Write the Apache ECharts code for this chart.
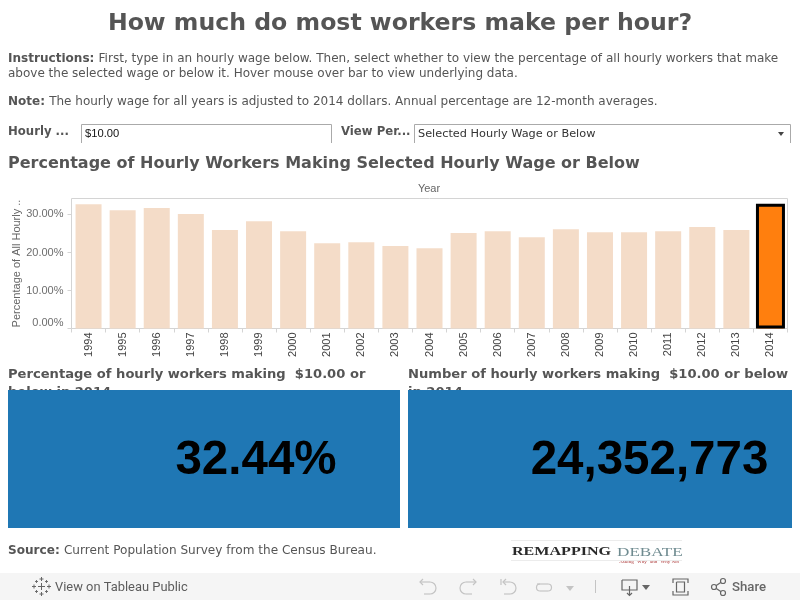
<!DOCTYPE html>
<html>
<head>
<meta charset="utf-8">
<style>html,body{margin:0;padding:0;background:#fff}#c{width:800px;height:600px}</style>
<script src="https://cdn.jsdelivr.net/npm/echarts@6/dist/echarts.min.js"></script>
</head>
<body>
<div id="c"></div>
<script>
const years = ['1994','1995','1996','1997','1998','1999','2000','2001','2002','2003','2004','2005','2006','2007','2008','2009','2010','2011','2012','2013','2014'];
const percentages = [32.7,31.1,31.7,30.1,25.9,28.2,25.6,22.4,22.7,21.7,21.1,25.1,25.6,24.0,26.1,25.3,25.3,25.6,26.7,25.9,32.44];
const yTicks = [0,10,20,30];
const selectedYear = '2014';
const selectedWage = '$10.00';
const kpiPercent = '32.44%';
const kpiCount = '24,352,773';

const UI = 'DejaVu Sans';
const AR = 'Liberation Sans';
const DARK = '#555555';
const g = [];
const text = (x, y, t, o = {}) => g.push({type:'text', x, y, z:o.z||5, scaleX:o.scaleX||1, style:Object.assign({text:t, fill:DARK, font:`${o.weight||'normal'} ${o.size||12}px "${o.family||UI}"`, textAlign:o.align||'left', textVerticalAlign:'middle'}, o.style||{})});
const rect = (x, y, w, h, fill, z = 2) => g.push({type:'rect', z, shape:{x,y,width:w,height:h}, style:{fill}});
const line = (x1, y1, x2, y2, stroke = '#aaaaaa', lw = 1, z = 6) => g.push({type:'line', z, shape:{x1,y1,x2,y2}, style:{stroke, lineWidth:lw}});
const poly = (points, stroke, lw = 1.2, z = 6) => g.push({type:'polyline', z, shape:{points}, style:{stroke, lineWidth:lw, fill:'none'}});
const tri = (points, fill) => g.push({type:'polygon', z:6, shape:{points}, style:{fill}});
const arc = (cx, cy, r, a0, a1, stroke, cw = true) => g.push({type:'arc', z:6, shape:{cx, cy, r, startAngle:a0, endAngle:a1, clockwise:cw}, style:{stroke, lineWidth:1.2, fill:'none'}});
const rich = (x, y, bold, rest, size = 12) => g.push({type:'text', x, y, z:5, style:{
  text:`{b|${bold}}{n|${rest}}`, textVerticalAlign:'middle',
  rich:{b:{font:`bold ${size}px "${UI}"`, fill:DARK}, n:{font:`${size}px "${UI}"`, fill:DARK}}
}});

text(400, 24, 'How much do most workers make per hour?', {size:23.6, weight:'bold', align:'center'});
rich(8, 59, 'Instructions: ', 'First, type in an hourly wage below. Then, select whether to view the percentage of all hourly workers that make', 12.06);
text(8, 74, 'above the selected wage or below it. Hover mouse over bar to view underlying data.');
rich(8, 102, 'Note: ', 'The hourly wage for all years is adjusted to 2014 dollars. Annual percentage are 12-month averages.');

text(8, 132, 'Hourly ...', {weight:'bold', size:11.7});
poly([[81.5,143],[81.5,124.5],[331.5,124.5],[331.5,143]], '#aaaaaa', 1);
text(85, 134, selectedWage, {size:11.2, family:AR, style:{fill:'#111'}});
text(341, 132, 'View Per...', {weight:'bold', size:11.7});
poly([[414.5,143],[414.5,124.5],[790.5,124.5],[790.5,143]], '#aaaaaa', 1);
text(418, 134, 'Selected Hourly Wage or Below', {size:11.3, style:{fill:'#333'}});
tri([[778,132],[784,132],[781,136]], '#444');

text(8, 164, 'Percentage of Hourly Workers Making Selected Hourly Wage or Below', {size:16, weight:'bold'});
text(429, 189, 'Year', {size:11, family:AR, align:'center', style:{fill:'#666'}});

text(8, 375, 'Percentage of hourly workers making  ' + selectedWage + ' or', {size:13.1, weight:'bold', z:1});
text(8, 393, 'below in ' + selectedYear, {size:13.1, weight:'bold', z:1});
text(408, 375, 'Number of hourly workers making  ' + selectedWage + ' or below', {size:13.1, weight:'bold', z:1});
text(408, 393, 'in ' + selectedYear, {size:13.1, weight:'bold', z:1});
rect(8, 390, 392, 138, '#1f77b4');
rect(408, 390, 384, 138, '#1f77b4');
text(256, 461, kpiPercent, {size:47.5, weight:'bold', family:AR, align:'center', style:{fill:'#000'}});
text(649.5, 461, kpiCount, {size:47.5, weight:'bold', family:AR, align:'center', style:{fill:'#000'}});

rich(8, 551, 'Source: ', 'Current Population Survey from the Census Bureau.', 12.08);

// logo
line(511, 540.5, 682, 540.5, '#ececec');
line(511, 560.5, 682, 560.5, '#ececec');
text(512, 552, 'REMAPPING', {size:13.5, weight:'bold', family:'Liberation Serif', scaleX:1.19, style:{fill:'#2a2a2a'}});
text(617, 552, 'DEBATE', {size:13.5, family:'Liberation Serif', scaleX:1.27, style:{fill:'#6f8b90'}});
text(681, 561.5, 'Asking "Why" and "Why Not"', {size:5, family:'Liberation Serif', align:'right', style:{fill:'#a33'}});

// toolbar
rect(0, 573, 800, 27, '#f5f5f5', 1);
text(55, 587.5, 'View on Tableau Public', {size:12.9, family:'Roboto', style:{fill:'#5c5c5c'}});
text(732, 587.5, 'Share', {size:13.2, family:'Roboto', weight:'500', style:{fill:'#666'}});
const ic = '#666666', dim = '#c4c4c4';
[[41.5,586.5,3.5],[41.5,579,2],[41.5,594,2],[34,586.5,2],[49,586.5,2],[36.5,581.5,1.4],[46.5,581.5,1.4],[36.5,591.5,1.4],[46.5,591.5,1.4]].forEach(([x,y,r]) => {
  line(x-r, y, x+r, y, '#666', 1); line(x, y-r, x, y+r, '#666', 1);
});
const H = Math.PI / 2;
// undo
poly([[423,579],[420,582],[423,585]], dim); poly([[420,582],[430,582]], dim); arc(430, 588, 6, -H, H, dim); poly([[430,594],[424,594]], dim);
// redo
poly([[473,579],[476,582],[473,585]], dim); poly([[476,582],[466,582]], dim); arc(466, 588, 6, H, -H, dim); poly([[466,594],[472,594]], dim);
// revert
poly([[501,579],[501,585]], dim); poly([[506,579],[503,582],[506,585]], dim); poly([[503,582],[510,582]], dim); arc(510, 588, 6, -H, H, dim); poly([[510,594],[504,594]], dim);
// refresh
poly([[537,584],[548,584]], dim); arc(548, 587.5, 3.5, -H, H, dim); poly([[548,591],[540,591]], dim); arc(540, 587.5, 3.5, H, -H, dim);
tri([[566,586],[574,586],[570,591]], dim);
line(595.5, 580, 595.5, 593, dim);
// download
poly([[622,580],[637,580],[637,590],[622,590],[622,580]], ic); poly([[629.5,586],[629.5,595]], ic); poly([[627,593],[629.5,595.5],[632,593]], ic);
tri([[642,585],[650,585],[646,590]], ic);
// fullscreen
poly([[673,583],[673,579],[688,579],[688,583]], ic); poly([[673,591],[673,595],[688,595],[688,591]], ic);
poly([[676.5,582],[684.5,582],[684.5,592],[676.5,592],[676.5,582]], ic);
// share
poly([[723,581],[714,587],[723,593]], ic);
[[714,587],[723,581],[723,593]].forEach(([cx,cy]) => g.push({type:'circle', z:7, shape:{cx,cy,r:2.5}, style:{fill:'#f5f5f5',stroke:ic,lineWidth:1.2}}));

const barData = years.map((y, i) => y === selectedYear
  ? {value:percentages[i], itemStyle:{color:'#ff7f0e'}}
  : {value:percentages[i]});
const selIndex = years.indexOf(selectedYear);

const chart = echarts.init(document.getElementById('c'), null, {renderer:'canvas'});
chart.setOption({
  animation:false,
  backgroundColor:'#fff',
  grid:{left:71.5, right:12.5, top:198.5, height:130, outerBoundsMode:'none', containLabel:false, show:true, borderColor:'#d4d4d4', borderWidth:1, backgroundColor:'#fff'},
  graphic:{elements:g},
  xAxis:{
    type:'category', data:years,
    axisLine:{show:true, lineStyle:{color:'#d4d4d4'}},
    axisTick:{show:true, length:4, lineStyle:{color:'#d4d4d4'}},
    axisLabel:{rotate:90, fontFamily:AR, fontSize:11, color:'#444', margin:4, interval:0}
  },
  yAxis:{
    type:'value', min:0, max:34.2, interval:10,
    name:'Percentage of All Hourly ..', nameLocation:'middle', nameGap:49, nameMoveOverlap:false,
    nameTextStyle:{fontFamily:AR, fontSize:11, color:'#666'},
    axisLine:{show:false},
    axisTick:{show:true, length:4, lineStyle:{color:'#d4d4d4'}, customValues:yTicks},
    splitLine:{show:false},
    axisLabel:{customValues:yTicks, fontFamily:AR, fontSize:11, color:'#6e6e6e', margin:8, verticalAlignMinLabel:'bottom', formatter:v => v.toFixed(2) + '%'}
  },
  series:[
    {type:'bar', data:barData, barWidth:26, itemStyle:{color:'#f4dcc8'}, z:3},
    {type:'custom', z:4, silent:true, data:[[selIndex, percentages[selIndex]]], encode:{x:0, y:1},
     renderItem:(p, api) => {
       const top = api.coord([api.value(0), api.value(1)]);
       const base = api.coord([api.value(0), 0]);
       return {type:'rect', shape:{x:top[0]-13, y:top[1], width:26, height:base[1]-top[1]-1.5}, style:{fill:'none', stroke:'#000', lineWidth:3}};
     }}
  ]
});
</script>
</body>
</html>
